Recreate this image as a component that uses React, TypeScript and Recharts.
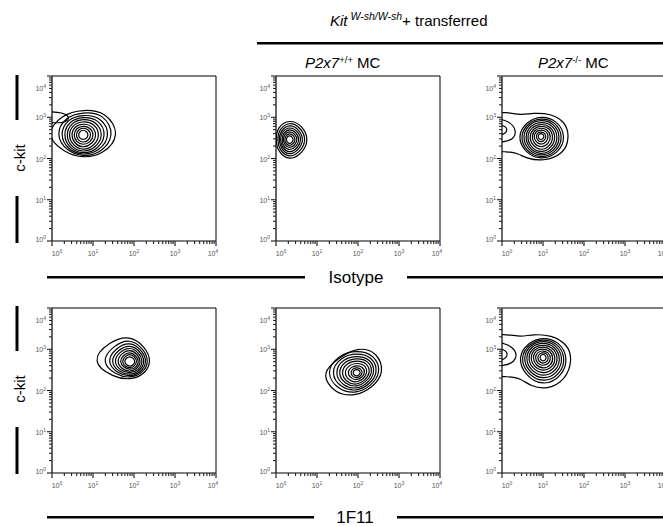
import React from "react";
import { ScatterChart, Scatter, XAxis, YAxis, ReferenceLine } from "recharts";

const FONT = "'Liberation Sans', Arial, Helvetica, sans-serif";

// log axes in decades: 10^0 .. 10^4, minor ticks at 2..9 inside each decade
const DECADES = [0, 1, 2, 3, 4];
const MINOR_STEPS = [2, 3, 4, 5, 6, 7, 8, 9];

// ring radii (decades) read around each population centre: E, NE, N, NW, W, SW, S, SE
const DIRS = [0, 45, 90, 135, 180, 225, 270, 315];

// ---- Isotype row ----
const isoCtrlCenter = [0.76, 2.57];
const isoCtrlRings = [
  [0.92, 0.8, 0.62, 0.72, 0.95, 0.62, 0.56, 0.68],
  [0.78, 0.72, 0.56, 0.62, 0.68, 0.56, 0.53, 0.62],
  [0.68, 0.62, 0.5, 0.55, 0.58, 0.52, 0.5, 0.56],
  [0.58, 0.54, 0.45, 0.48, 0.5, 0.47, 0.47, 0.5],
  [0.5, 0.46, 0.4, 0.42, 0.43, 0.42, 0.43, 0.44],
  [0.42, 0.39, 0.34, 0.36, 0.37, 0.36, 0.38, 0.38],
  [0.34, 0.32, 0.28, 0.3, 0.3, 0.3, 0.32, 0.31],
  [0.27, 0.25, 0.23, 0.24, 0.24, 0.24, 0.25, 0.25],
  [0.2, 0.19, 0.18, 0.18, 0.18, 0.18, 0.19, 0.19],
  [0.13, 0.12, 0.13, 0.12, 0.12, 0.12, 0.12, 0.12],
];
const isoCtrlLoose = [
  [[-0.5, 3.13], [0.2, 3.14], [0.45, 3.03], [0.35, 2.82], [-0.5, 2.92]],
];

const isoWtCenter = [0.33, 2.46];
const isoWtRings = [
  [0.47, 0.46, 0.5, 0.42, 0.34, 0.41, 0.52, 0.46],
  [0.41, 0.4, 0.44, 0.36, 0.3, 0.36, 0.46, 0.4],
  [0.35, 0.34, 0.38, 0.31, 0.26, 0.31, 0.4, 0.34],
  [0.3, 0.29, 0.32, 0.27, 0.23, 0.27, 0.34, 0.29],
  [0.25, 0.24, 0.27, 0.22, 0.19, 0.23, 0.28, 0.24],
  [0.2, 0.19, 0.21, 0.18, 0.16, 0.18, 0.22, 0.19],
  [0.15, 0.14, 0.16, 0.13, 0.12, 0.14, 0.16, 0.14],
  [0.1, 0.09, 0.1, 0.09, 0.08, 0.09, 0.11, 0.09],
];
const isoWtLoose: number[][][] = [];

const isoKoCenter = [0.95, 2.54];
const isoKoRings = [
  [0.62, 0.55, 0.5, 0.5, 0.58, 0.56, 0.58, 0.6],
  [0.55, 0.5, 0.45, 0.46, 0.52, 0.52, 0.55, 0.55],
  [0.49, 0.45, 0.41, 0.42, 0.46, 0.47, 0.51, 0.5],
  [0.43, 0.4, 0.36, 0.37, 0.4, 0.42, 0.47, 0.45],
  [0.37, 0.34, 0.31, 0.32, 0.35, 0.37, 0.42, 0.39],
  [0.31, 0.29, 0.26, 0.27, 0.29, 0.31, 0.36, 0.33],
  [0.25, 0.23, 0.21, 0.22, 0.23, 0.25, 0.29, 0.27],
  [0.19, 0.18, 0.16, 0.17, 0.18, 0.19, 0.22, 0.2],
  [0.13, 0.12, 0.11, 0.12, 0.12, 0.13, 0.15, 0.14],
  [0.08, 0.07, 0.07, 0.07, 0.07, 0.08, 0.09, 0.08],
];
const isoKoLoose = [
  [[-0.4, 3.13], [0.15, 3.12], [0.45, 3.05], [0.75, 3.1], [1.15, 3.1], [1.55, 2.9], [1.65, 2.5], [1.5, 2.1], [1.0, 1.93], [0.6, 2.0], [0.4, 2.12], [0.15, 2.17], [-0.4, 2.17]],
  [[-0.4, 2.98], [0.1, 2.95], [0.3, 2.78], [0.34, 2.62], [0.28, 2.48], [0.1, 2.4], [-0.4, 2.38]],
  [[-0.4, 2.85], [0.05, 2.82], [0.15, 2.7], [0.05, 2.56], [-0.4, 2.53]],
];

// ---- 1F11 row ----
const mabCtrlCenter = [1.9, 2.7];
const mabCtrlRings = [
  [0.54, 0.52, 0.64, 0.7, 0.98, 0.55, 0.44, 0.47],
  [0.48, 0.46, 0.56, 0.56, 0.72, 0.47, 0.4, 0.42],
  [0.43, 0.41, 0.49, 0.48, 0.58, 0.42, 0.37, 0.38],
  [0.38, 0.36, 0.42, 0.41, 0.49, 0.37, 0.33, 0.34],
  [0.33, 0.31, 0.36, 0.35, 0.41, 0.32, 0.29, 0.3],
  [0.28, 0.26, 0.3, 0.29, 0.33, 0.27, 0.25, 0.25],
  [0.23, 0.21, 0.24, 0.23, 0.26, 0.21, 0.2, 0.21],
  [0.18, 0.17, 0.19, 0.18, 0.2, 0.17, 0.16, 0.16],
  [0.13, 0.12, 0.13, 0.13, 0.14, 0.12, 0.12, 0.12],
];
const mabCtrlLoose: number[][][] = [];

const mabWtCenter = [1.97, 2.43];
const mabWtRings = [
  [0.68, 0.72, 0.62, 0.55, 0.9, 0.75, 0.56, 0.52],
  [0.6, 0.62, 0.55, 0.62, 0.78, 0.62, 0.5, 0.47],
  [0.53, 0.55, 0.48, 0.55, 0.66, 0.54, 0.45, 0.42],
  [0.46, 0.48, 0.42, 0.48, 0.56, 0.47, 0.4, 0.37],
  [0.4, 0.42, 0.36, 0.41, 0.48, 0.4, 0.35, 0.32],
  [0.34, 0.35, 0.3, 0.34, 0.4, 0.34, 0.3, 0.27],
  [0.27, 0.28, 0.24, 0.27, 0.32, 0.27, 0.24, 0.22],
  [0.21, 0.21, 0.18, 0.2, 0.24, 0.2, 0.18, 0.17],
  [0.15, 0.14, 0.13, 0.14, 0.16, 0.14, 0.13, 0.12],
  [0.09, 0.09, 0.08, 0.09, 0.1, 0.09, 0.08, 0.08],
];
const mabWtLoose: number[][][] = [];

const mabKoCenter = [1.0, 2.8];
const mabKoRings = [
  [0.62, 0.55, 0.5, 0.52, 0.62, 0.62, 0.7, 0.66],
  [0.56, 0.5, 0.46, 0.48, 0.56, 0.56, 0.62, 0.6],
  [0.5, 0.45, 0.42, 0.44, 0.5, 0.5, 0.55, 0.53],
  [0.44, 0.4, 0.37, 0.4, 0.44, 0.44, 0.48, 0.47],
  [0.38, 0.35, 0.32, 0.35, 0.38, 0.38, 0.41, 0.4],
  [0.32, 0.29, 0.27, 0.3, 0.32, 0.32, 0.34, 0.34],
  [0.26, 0.24, 0.22, 0.25, 0.26, 0.26, 0.28, 0.28],
  [0.2, 0.18, 0.17, 0.19, 0.2, 0.2, 0.21, 0.21],
  [0.14, 0.13, 0.12, 0.13, 0.14, 0.14, 0.15, 0.15],
  [0.08, 0.08, 0.08, 0.08, 0.08, 0.08, 0.09, 0.09],
];
const mabKoLoose = [
  [[-0.4, 3.36], [0.15, 3.36], [0.45, 3.3], [0.75, 3.36], [1.2, 3.35], [1.6, 3.12], [1.72, 2.75], [1.55, 2.25], [1.1, 2.02], [0.7, 2.1], [0.45, 2.3], [0.15, 2.34], [-0.4, 2.34]],
  [[-0.4, 3.18], [0.1, 3.16], [0.32, 2.98], [0.36, 2.85], [0.3, 2.7], [0.1, 2.6], [-0.4, 2.58]],
  [[-0.4, 3.05], [0.05, 3.02], [0.16, 2.88], [0.05, 2.72], [-0.4, 2.7]],
];

type Pt = { x: number; y: number };

const ringPoints = (center: number[], radii: number[]): Pt[] =>
  radii.map((r, k) => {
    const a = (DIRS[k] * Math.PI) / 180;
    return { x: center[0] + r * Math.cos(a), y: center[1] + r * Math.sin(a) };
  });
const loosePoints = (pts: number[][]): Pt[] => pts.map(([x, y]) => ({ x, y }));

const TICKS = DECADES.flatMap((d) =>
  d < 4 ? [d, ...MINOR_STEPS.map((m) => d + Math.log10(m))] : [d]
);

const YW = 30;
const XH = 26;
const MT = 2;
const MR = 2;
const PW = 164;
const PH = 165;
const TS = 3; // built-in minor tick length

// labels for the decades; (x, y) come in already pushed out by the tick line
function LogTick(props: any) {
  const { x, y, payload, side } = props;
  const v = payload.value;
  const major = Math.abs(v - Math.round(v)) < 1e-6;
  if (!major) return <g />;
  const n = Math.round(v);
  if (side === "x") {
    const dx = n === 0 ? 5 : n === 4 ? -3 : 0;
    return (
      <g>
        <line x1={x} x2={x} y1={y} y2={y + 2} stroke="#000" strokeWidth={1.1} />
        <text x={x + dx} y={y + 12} textAnchor="middle" fontSize={7} fill="#555" fontFamily={FONT}>
          10<tspan dy={-3} fontSize={5}>{n}</tspan>
        </text>
      </g>
    );
  }
  const dy = n === 4 ? 15 : n === 0 ? 1 : 3;
  return (
    <g>
      <line x1={x - 2} x2={x} y1={y} y2={y} stroke="#000" strokeWidth={1.1} />
      <text x={x - 3} y={y + dy} textAnchor="end" fontSize={7} fill="#555" fontFamily={FONT}>
        10<tspan dy={-3} fontSize={5}>{n}</tspan>
      </text>
    </g>
  );
}

interface PanelProps {
  left: number;
  top: number;
  center: number[];
  rings: number[][];
  loose: number[][][];
}

function Panel({ left, top, center, rings, loose }: PanelProps) {
  const contours = [...loose.map(loosePoints), ...rings.map((r) => ringPoints(center, r))];
  return (
    <div style={{ position: "absolute", left: left - YW, top: top - MT }}>
      <ScatterChart
        width={YW + PW + MR}
        height={MT + PH + XH}
        margin={{ top: MT, right: MR, bottom: 0, left: 0 }}
      >
        <XAxis
          type="number"
          dataKey="x"
          domain={[0, 4]}
          allowDataOverflow
          ticks={TICKS}
          interval={0}
          height={XH}
          tickSize={TS}
          tickMargin={0}
          tickLine={{ stroke: "#222", strokeWidth: 1.1 }}
          axisLine={{ stroke: "#000", strokeWidth: 1 }}
          tick={(p: any) => <LogTick {...p} side="x" />}
        />
        <YAxis
          type="number"
          dataKey="y"
          domain={[0, 4]}
          allowDataOverflow
          ticks={TICKS}
          interval={0}
          width={YW}
          tickSize={TS}
          tickMargin={0}
          tickLine={{ stroke: "#222", strokeWidth: 1.1 }}
          axisLine={{ stroke: "#000", strokeWidth: 1.2 }}
          tick={(p: any) => <LogTick {...p} side="y" />}
        />
        <ReferenceLine y={4} stroke="#000" strokeWidth={1} />
        <ReferenceLine x={4} stroke="#000" strokeWidth={1} />
        {contours.map((pts, i) => (
          <Scatter
            key={i}
            data={pts}
            line={{ stroke: "#000", strokeWidth: 1.2 }}
            lineJointType="basisClosed"
            shape={() => <g />}
            isAnimationActive={false}
            legendType="none"
          />
        ))}
      </ScatterChart>
    </div>
  );
}

const ROW1 = 76;
const ROW2 = 308;
const COLS = [52, 276, 502];

export default function App() {
  return (
    <div
      style={{
        position: "absolute",
        left: 0,
        top: 0,
        width: 663,
        height: 526,
        overflow: "hidden",
        background: "#fff",
        fontFamily: FONT,
      }}
    >
      <Panel left={COLS[0]} top={ROW1} center={isoCtrlCenter} rings={isoCtrlRings} loose={isoCtrlLoose} />
      <Panel left={COLS[1]} top={ROW1} center={isoWtCenter} rings={isoWtRings} loose={isoWtLoose} />
      <Panel left={COLS[2]} top={ROW1} center={isoKoCenter} rings={isoKoRings} loose={isoKoLoose} />
      <Panel left={COLS[0]} top={ROW2} center={mabCtrlCenter} rings={mabCtrlRings} loose={mabCtrlLoose} />
      <Panel left={COLS[1]} top={ROW2} center={mabWtCenter} rings={mabWtRings} loose={mabWtLoose} />
      <Panel left={COLS[2]} top={ROW2} center={mabKoCenter} rings={mabKoRings} loose={mabKoLoose} />

      <svg
        width={663}
        height={526}
        style={{ position: "absolute", left: 0, top: 0, pointerEvents: "none" }}
        fontFamily={FONT}
      >
        <text x={330} y={26} fontSize={15} fill="#000">
          <tspan fontStyle="italic">Kit</tspan>
          <tspan fontStyle="italic" fontSize={10.5} dx={3} dy={-6}>W-sh/W-sh</tspan>
          <tspan dy={6}>+ transferred</tspan>
        </text>
        <rect x={257} y={42} width={410} height={2.5} fill="#000" />

        <text x={305} y={68} fontSize={15} fill="#000">
          <tspan fontStyle="italic">P2x7</tspan>
          <tspan fontSize={9.5} dy={-5}>+/+</tspan>
          <tspan dy={5}> MC</tspan>
        </text>
        <text x={538} y={68} fontSize={15} fill="#000">
          <tspan fontStyle="italic">P2x7</tspan>
          <tspan fontSize={9.5} dy={-5}>-/-</tspan>
          <tspan dy={5}> MC</tspan>
        </text>

        {[0, 231].map((off) => (
          <g key={off}>
            <rect x={15.5} y={75 + off} width={3} height={45} fill="#000" />
            <rect x={15.5} y={196 + off} width={3} height={47} fill="#000" />
            <text
              x={0}
              y={0}
              fontSize={15}
              textAnchor="middle"
              fill="#000"
              transform={`translate(25 ${158 + off}) rotate(-90)`}
            >
              c-kit
            </text>
          </g>
        ))}

        <rect x={47} y={276} width={258} height={2.5} fill="#000" />
        <rect x={407} y={276} width={260} height={2.5} fill="#000" />
        <text x={356} y={283} fontSize={17} textAnchor="middle" fill="#000">
          Isotype
        </text>

        <rect x={47} y={516} width={267} height={2.5} fill="#000" />
        <rect x={397} y={516} width={270} height={2.5} fill="#000" />
        <text x={355} y={523} fontSize={17} textAnchor="middle" fill="#000">
          1F11
        </text>
      </svg>
    </div>
  );
}
